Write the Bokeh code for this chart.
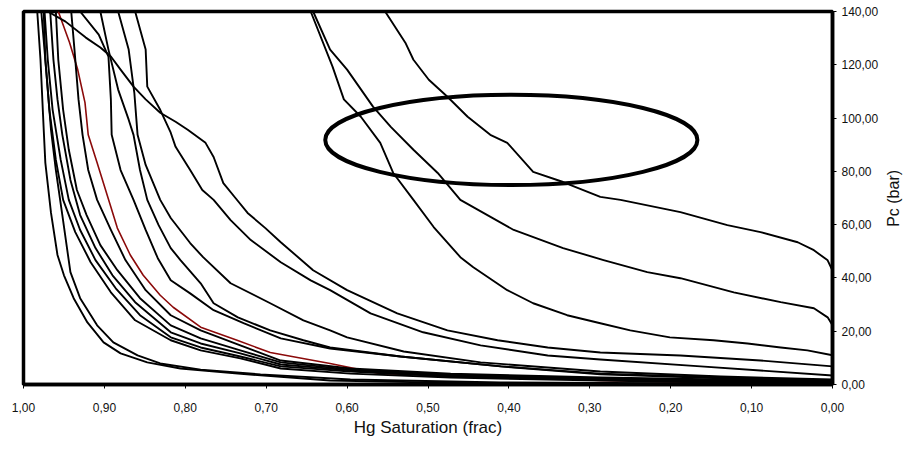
import math
from bokeh.plotting import figure
from bokeh.layouts import row
from bokeh.models import Range1d, FixedTicker, CustomJSTickFormatter
from bokeh.core.properties import value
from bokeh.embed import file_html
from bokeh.resources import INLINE

# ---- axis ticks -------------------------------------------------------------
x_ticks = [1.0, 0.9, 0.8, 0.7, 0.6, 0.5, 0.4, 0.3, 0.2, 0.1, 0.0]
y_ticks = [0, 20, 40, 60, 80, 100, 120, 140]

# ---- capillary pressure curves (Hg saturation frac, Pc bar) -----------------
l1_x = [0.983, 0.979, 0.975, 0.973, 0.966, 0.958, 0.950, 0.938, 0.921, 0.901, 0.880, 0.847, 0.806, 0.735, 0.621, 0.472, 0.287, 0.0]
l1_y = [140, 121.9, 95.6, 83.2, 64.4, 48.6, 41.0, 32.4, 23.3, 15.8, 11.7, 8.3, 6.0, 4.1, 1.5, 0.6, 0.2, 0.1]

l2_x = [0.978, 0.972, 0.966, 0.960, 0.952, 0.945, 0.942, 0.930, 0.909, 0.889, 0.859, 0.831, 0.781, 0.707, 0.596, 0.410, 0.0]
l2_y = [140, 118.2, 95.6, 80.5, 63.6, 48.6, 42.2, 32.4, 22.2, 15.8, 10.9, 7.9, 5.6, 3.8, 1.9, 0.75, 0.2]

m5_x = [0.975, 0.973, 0.968, 0.960, 0.951, 0.936, 0.917, 0.892, 0.862, 0.818, 0.781, 0.732, 0.682, 0.596, 0.472, 0.287, 0.138, 0.0]
m5_y = [140, 121.9, 103.1, 84.3, 69.3, 57.2, 45.9, 34.6, 24.1, 16.6, 12.8, 9.8, 6.0, 4.1, 2.6, 1.5, 0.75, 0.38]

m2_x = [0.974, 0.970, 0.964, 0.954, 0.944, 0.930, 0.911, 0.886, 0.856, 0.818, 0.781, 0.732, 0.682, 0.596, 0.472, 0.287, 0.138, 0.0]
m2_y = [140, 121.9, 103.1, 84.3, 69.3, 58.0, 46.7, 36.1, 26.0, 17.7, 13.9, 10.5, 6.8, 4.9, 3.0, 1.9, 1.1, 0.56]

m1_x = [0.967, 0.963, 0.958, 0.952, 0.942, 0.930, 0.911, 0.890, 0.862, 0.818, 0.781, 0.732, 0.682, 0.596, 0.472, 0.287, 0.138, 0.0]
m1_y = [140, 121.9, 107.0, 93.7, 76.8, 63.6, 51.2, 41.0, 30.9, 19.6, 15.4, 11.7, 7.5, 5.3, 3.4, 2.1, 1.3, 0.75]

m4_x = [0.960, 0.957, 0.951, 0.944, 0.934, 0.922, 0.905, 0.884, 0.856, 0.818, 0.781, 0.732, 0.682, 0.596, 0.472, 0.287, 0.138, 0.0]
m4_y = [140, 121.9, 103.1, 88.1, 73.0, 63.6, 52.3, 42.9, 32.4, 22.2, 17.3, 12.8, 8.3, 5.6, 3.8, 2.3, 1.5, 0.75]

m3_x = [0.941, 0.937, 0.932, 0.927, 0.920, 0.909, 0.892, 0.874, 0.849, 0.818, 0.781, 0.732, 0.682, 0.596, 0.472, 0.287, 0.138, 0.0]
m3_y = [140, 125.7, 107.0, 93.7, 80.5, 69.3, 58.0, 46.7, 35.4, 26.0, 20.3, 14.7, 9.0, 6.0, 4.1, 2.6, 1.9, 1.1]

red_x = [0.957, 0.943, 0.933, 0.924, 0.920, 0.909, 0.892, 0.884, 0.868, 0.852, 0.831, 0.815, 0.781, 0.736, 0.695, 0.621, 0.560, 0.436, 0.288, 0.164, 0.0]
red_y = [140, 128.3, 118.2, 105.8, 93.7, 83.2, 66.6, 58.7, 48.6, 41.0, 33.5, 29.0, 21.5, 16.6, 12.0, 7.9, 4.1, 3.4, 1.5, 0.75, 0.2]

n1_x = [0.930, 0.907, 0.895, 0.892, 0.891, 0.880, 0.864, 0.849, 0.834, 0.818, 0.794, 0.765, 0.728, 0.682, 0.621, 0.534, 0.410, 0.287, 0.138, 0.0]
n1_y = [140, 131.3, 123.1, 107.0, 93.7, 80.5, 69.3, 58.0, 47.4, 39.1, 34.2, 27.9, 23.0, 17.3, 13.5, 10.5, 6.8, 4.1, 2.6, 1.5]

n2_x = [0.905, 0.895, 0.883, 0.870, 0.864, 0.856, 0.847, 0.833, 0.818, 0.806, 0.781, 0.765, 0.735, 0.695, 0.654, 0.621, 0.534, 0.410, 0.287, 0.138, 0.0]
n2_y = [140, 125.7, 110.7, 99.4, 93.7, 80.5, 69.3, 59.8, 51.2, 46.7, 38.0, 30.5, 25.2, 20.3, 16.6, 13.9, 10.5, 6.8, 3.8, 2.3, 1.3]

n3_x = [0.883, 0.870, 0.863, 0.859, 0.849, 0.831, 0.818, 0.794, 0.778, 0.744, 0.695, 0.654, 0.621, 0.600, 0.530, 0.435, 0.287, 0.138, 0.0]
n3_y = [140, 125.7, 109.5, 93.7, 82.4, 69.3, 62.5, 53.1, 47.8, 38.0, 30.5, 24.1, 20.3, 17.7, 12.4, 8.3, 4.9, 3.0, 1.9]

p_x = [0.862, 0.849, 0.847, 0.831, 0.818, 0.812, 0.794, 0.779, 0.765, 0.744, 0.719, 0.682, 0.645, 0.621, 0.571, 0.506, 0.435, 0.352, 0.287, 0.163, 0.0]
p_y = [140, 125.7, 111.8, 103.1, 94.5, 89.2, 80.5, 73.0, 69.3, 61.7, 54.2, 45.9, 39.1, 35.4, 26.7, 19.6, 14.7, 10.9, 9.4, 6.8, 3.4]

c_x = [0.970, 0.948, 0.923, 0.905, 0.892, 0.880, 0.864, 0.849, 0.831, 0.812, 0.797, 0.775, 0.765, 0.753, 0.738, 0.723, 0.701, 0.682, 0.642, 0.600, 0.538, 0.476, 0.414, 0.352, 0.287, 0.188, 0.089, 0.0]
c_y = [140, 136.2, 130.2, 126.5, 123.1, 118.2, 111.8, 107.0, 102.0, 98.6, 95.6, 90.7, 85.4, 75.6, 70.0, 64.4, 58.7, 53.4, 42.9, 35.4, 26.7, 20.3, 16.6, 13.9, 12.0, 10.9, 9.0, 6.8]

b1_x = [0.645, 0.618, 0.604, 0.583, 0.559, 0.543, 0.518, 0.493, 0.460, 0.444, 0.402, 0.370, 0.328, 0.287, 0.250, 0.201, 0.147, 0.105, 0.064, 0.031, 0.0]
b1_y = [140, 119.3, 107.0, 100.5, 90.7, 79.4, 69.3, 59.1, 47.8, 44.0, 35.4, 30.5, 26.0, 23.0, 20.3, 17.7, 16.6, 15.4, 13.9, 12.8, 11.0]

b2_x = [0.642, 0.621, 0.600, 0.568, 0.546, 0.518, 0.488, 0.460, 0.394, 0.333, 0.283, 0.229, 0.188, 0.122, 0.064, 0.023, 0.006, 0.0]
b2_y = [140, 125.7, 118.2, 104.3, 96.7, 88.1, 79.4, 69.3, 58.0, 51.2, 46.7, 42.2, 39.9, 34.6, 30.9, 28.6, 25.2, 22.2]

a_x = [0.553, 0.528, 0.518, 0.499, 0.476, 0.451, 0.423, 0.402, 0.370, 0.333, 0.287, 0.262, 0.188, 0.130, 0.089, 0.043, 0.023, 0.006, 0.0]
a_y = [140, 128.3, 121.9, 114.4, 108.0, 100.5, 93.7, 90.7, 79.8, 76.0, 70.4, 69.3, 64.7, 59.8, 57.2, 53.4, 50.4, 46.6, 42.8]

# highlighted zone (ellipse): centre x, centre y, full width (frac), full height (bar)
zone_x = [0.397]
zone_y = [91.8]
zone_w = [0.46]
zone_h = [33.9]

y_title = ["Pc (bar)"]

black_curves = [
    (l1_x, l1_y), (l2_x, l2_y), (m5_x, m5_y), (m2_x, m2_y), (m1_x, m1_y),
    (m4_x, m4_y), (m3_x, m3_y), (n1_x, n1_y), (n2_x, n2_y), (n3_x, n3_y),
    (p_x, p_y), (c_x, c_y), (b1_x, b1_y), (b2_x, b2_y), (a_x, a_y),
]

FONT = "Liberation Sans"
W_MAIN, W_SIDE, H = 883, 30, 451

p = figure(
    width=W_MAIN, height=H,
    x_range=Range1d(1.0, 0.0), y_range=Range1d(0, 140),
    y_axis_location="right",
    toolbar_location=None, output_backend="svg",
    min_border_left=23, min_border_right=51, min_border_top=11, min_border_bottom=67,
    background_fill_color="white", border_fill_color="white",
)
p.xgrid.visible = False
p.ygrid.visible = False
p.outline_line_color = "black"
p.outline_line_width = 3.5

# red curve first (drawn under black ones)
p.line(red_x, red_y, line_color="#8b0a0a", line_width=1.6, line_join="round")
for cx, cy in black_curves:
    p.line(cx, cy, line_color="black", line_width=1.9, line_join="round")

p.ellipse(x=zone_x, y=zone_y, width=zone_w, height=zone_h,
          fill_color=None, line_color="black", line_width=4)

fmt = CustomJSTickFormatter(code="return tick.toFixed(2).replace('.', ',');")

xa = p.xaxis[0]
xa.ticker = FixedTicker(ticks=x_ticks)
xa.formatter = fmt
xa.axis_label = "Hg Saturation (frac)"
ya = p.yaxis[0]
ya.ticker = FixedTicker(ticks=y_ticks)
ya.formatter = fmt

for ax in (xa, ya):
    ax.axis_line_color = "black"
    ax.axis_line_width = 3.5
    ax.major_tick_line_color = "black"
    ax.major_tick_line_width = 1
    ax.major_tick_in = 0
    ax.major_tick_out = 4
    ax.minor_tick_line_color = None
    ax.major_label_text_font = FONT
    ax.major_label_text_font_size = "12px"
    ax.major_label_text_color = "#111111"

xa.axis_label_text_font = FONT
xa.axis_label_text_font_style = "normal"
xa.axis_label_text_color = "#111111"
xa.axis_label_text_font_size = "17px"
xa.major_label_standoff = 14
xa.axis_label_standoff = 3
ya.major_label_standoff = 5

# narrow side strip carrying the right-hand axis title (reads bottom-to-top)
side = figure(
    width=W_SIDE, height=H,
    x_range=Range1d(0, W_SIDE), y_range=Range1d(0, H),
    x_axis_type=None, y_axis_type=None,
    toolbar_location=None, output_backend="svg",
    min_border=0, outline_line_color=None,
    background_fill_color="white", border_fill_color="white",
)
side.xgrid.visible = False
side.ygrid.visible = False
side.text(x=[10], y=[H - 226], text=y_title, angle=math.pi / 2,
          text_align="center", text_baseline="middle",
          text_font=value(FONT), text_font_size="16px", text_color="#111111")

layout = row(p, side, spacing=0)
open("out.html", "w").write(file_html(layout, INLINE))
